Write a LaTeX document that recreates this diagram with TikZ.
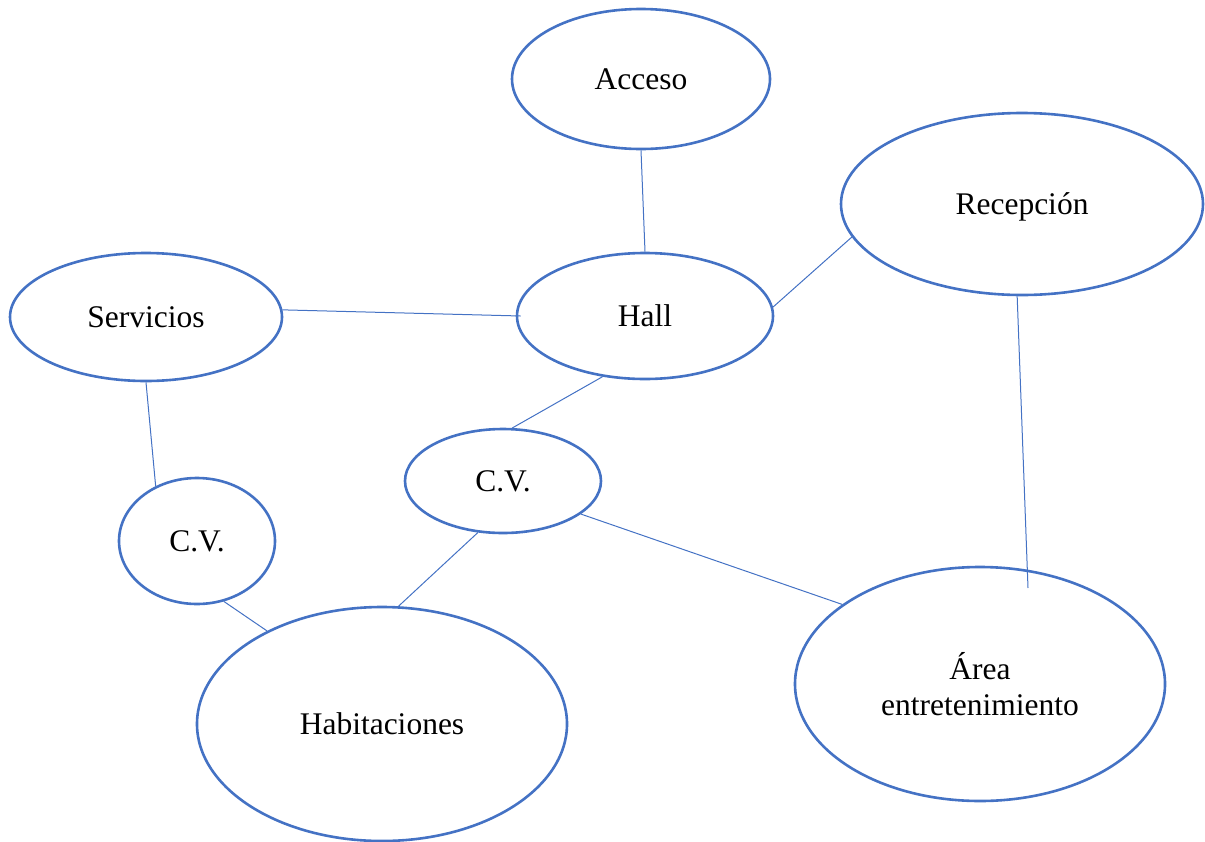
\documentclass[tikz,border=0pt]{standalone}
\usepackage{fontspec}
\setmainfont{Liberation Serif}
\usetikzlibrary{shapes.geometric}
\definecolor{zoneblue}{HTML}{4472C4}
\tikzset{
  zone/.style n args={2}{ellipse, draw=zoneblue, line width=2.6pt, inner sep=0pt,
    minimum width=#1pt, minimum height=#2pt, align=center,
    font=\fontsize{31.5}{36}\selectfont},
  link/.style={draw=zoneblue, line width=1pt}
}
\begin{document}
\begin{tikzpicture}[x=1pt, y=-1pt]
\useasboundingbox (0,0) rectangle (1205,841);

% zones of the building
\node[zone={258}{140}] (acceso)    at (641,79)  {Acceso};
\node[zone={362}{182}, text depth=0pt] (recepcion) at (1022,204) {Recepción};
\node[zone={272}{128}] (servicios) at (146,317) {Servicios};
\node[zone={256}{126}] (hall)      at (645,316) {Hall};
\node[zone={196}{104}] (cvmid)     at (503,481) {C.V.};
\node[zone={156}{126}] (cvleft)    at (197,541) {C.V.};
\node[zone={370}{234}] (habit)     at (382,724) {Habitaciones};
\node[zone={370}{234}] (area)      at (980,684) {Área\\entretenimiento};

% end of the link that runs into the entertainment area
\coordinate (areatop) at (1028,588);

% circulation links
\draw[link] (acceso.south) -- (hall.north);
\draw[link] (servicios.3) -- ([xshift=5pt]hall.west);
\draw[link] (recepcion.191) -- (hall.4);
\draw[link] (hall.235) -- (cvmid.80);
\draw[link] (recepcion.267) -- (areatop);
\draw[link] (servicios.south) -- (cvleft.127);
\draw[link] (cvleft.294) -- (habit.141);
\draw[link] (cvmid.244) -- (habit.82);
\draw[link] (cvmid.337) -- (area.150);
\end{tikzpicture}
\end{document}
